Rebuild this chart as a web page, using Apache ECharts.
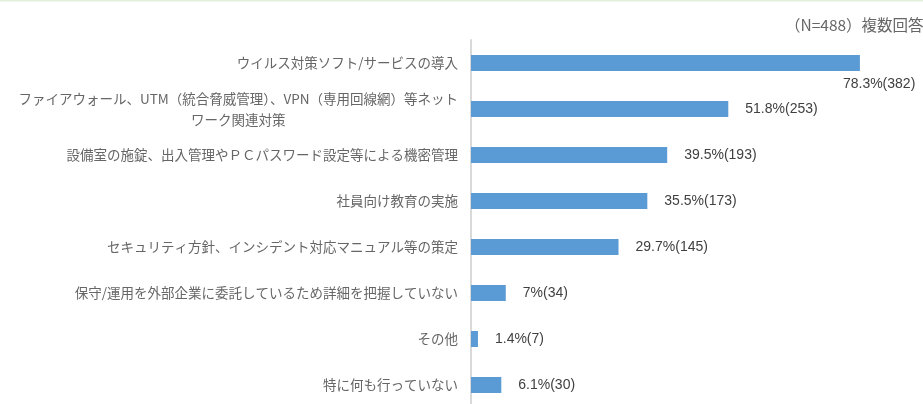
<!DOCTYPE html>
<html>
<head>
<meta charset="utf-8">
<script src="https://cdn.jsdelivr.net/npm/echarts@6/dist/echarts.min.js"></script>
<style>
  html, body { margin: 0; padding: 0; background: #fff; }
  #chart { width: 923px; height: 404px; }
</style>
</head>
<body>
<div id="chart"></div>
<script>
// 回答項目（上から順）
const categories = [
  'ウイルス対策ソフト/サービスの導入',
  'ファイアウォール、UTM（統合脅威管理）、VPN（専用回線網）等ネット\nワーク関連対策',
  '設備室の施錠、出入管理やＰＣパスワード設定等による機密管理',
  '社員向け教育の実施',
  'セキュリティ方針、インシデント対応マニュアル等の策定',
  '保守/運用を外部企業に委託しているため詳細を把握していない',
  'その他',
  '特に何も行っていない'
];
const percents = [78.3, 51.8, 39.5, 35.5, 29.7, 7, 1.4, 6.1];
const counts = [382, 253, 193, 173, 145, 34, 7, 30];
const noteText = '（N=488）複数回答';

const chart = echarts.init(document.getElementById('chart'));

const seriesData = percents.map((v, i) => {
  const item = { value: v, count: counts[i] };
  if (i === 0) {
    // 一番長いバーはラベルを下に回す
    item.label = { position: 'right', distance: 0, offset: [-17, 21] };
  }
  return item;
});

const catFont = '"Noto Sans CJK JP", sans-serif';

chart.setOption({
  animation: false,
  grid: { left: 471, top: 40, width: 452, height: 368, outerBoundsMode: 'none' },
  graphic: [
    {
      type: 'line',
      shape: { x1: 0, y1: 0.5, x2: 923, y2: 0.5 },
      style: { stroke: '#e2efda', lineWidth: 2 }
    },
    {
      type: 'text',
      x: 785,
      y: 17,
      style: {
        text: noteText,
        fill: '#666666',
        font: '15.5px "Noto Sans CJK JP", sans-serif'
      }
    }
  ],
  xAxis: {
    type: 'value',
    min: 0,
    max: 91,
    show: false
  },
  yAxis: {
    type: 'category',
    inverse: true,
    data: categories,
    axisLine: { show: true, lineStyle: { color: '#d9d9d9', width: 2 } },
    axisTick: { show: false },
    axisLabel: {
      margin: 13,
      color: '#666666',
      fontSize: 13.5,
      fontFamily: catFont,
      lineHeight: 21,
      formatter: (name) => {
        if (name.indexOf('\n') < 0) return name;
        const parts = name.split('\n');
        return '{a|' + parts[0] + '}\n{c|' + parts[1] + '}';
      },
      rich: {
        a: { color: '#666666', fontSize: 13.5, lineHeight: 21, fontFamily: catFont },
        c: { color: '#666666', fontSize: 13.5, lineHeight: 21, align: 'center', fontFamily: catFont }
      }
    }
  },
  series: [
    {
      type: 'bar',
      data: seriesData,
      barWidth: 16,
      itemStyle: { color: '#5b9bd5' },
      label: {
        show: true,
        position: 'right',
        distance: 17,
        color: '#404040',
        fontSize: 14,
        fontFamily: '"Liberation Sans", Arial, sans-serif',
        formatter: (p) => p.value + '%(' + p.data.count + ')'
      }
    }
  ]
});
</script>
</body>
</html>
